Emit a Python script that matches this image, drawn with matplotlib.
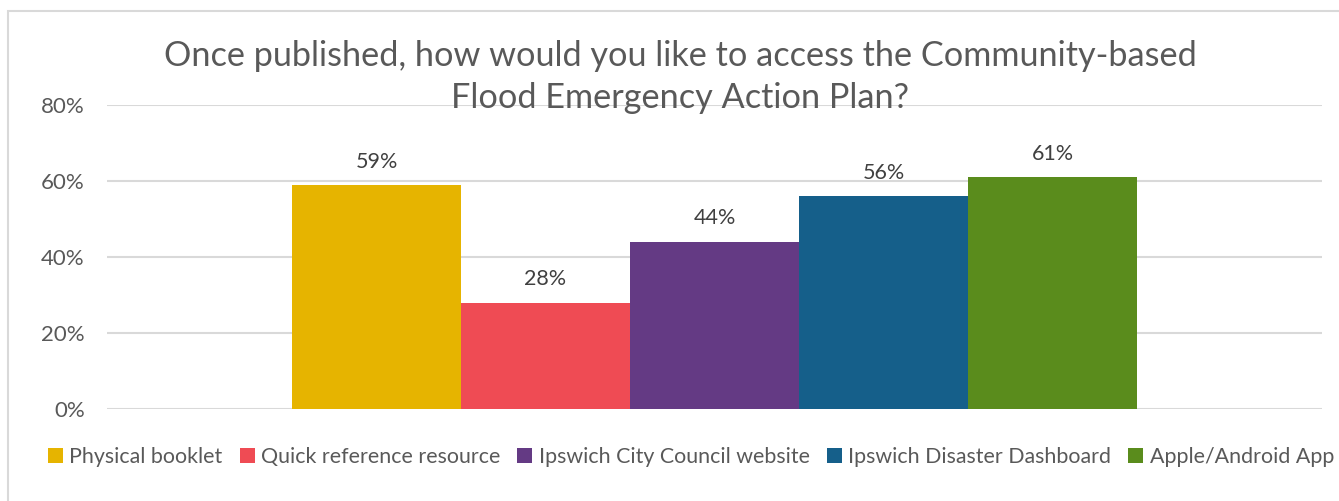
import numpy as np
import matplotlib.pyplot as plt
from matplotlib.patches import Rectangle

options = ['Physical booklet', 'Quick reference resource', 'Ipswich City Council website',
           'Ipswich Disaster Dashboard', 'Apple/Android App']
shares = [0.59, 0.28, 0.44, 0.56, 0.61]
colors = ['#E6B400', '#EF4B54', '#643A84', '#155F8A', '#5A8C1C']
yticks = [0, 0.2, 0.4, 0.6, 0.8]

plt.rcParams['font.family'] = ['Lato', 'DejaVu Sans']

fig = plt.figure(figsize=(13.39, 5.01), dpi=100)
ax = fig.add_axes([107 / 1339, 1 - 409 / 501, (1322 - 107) / 1339, (409 - 105) / 501])

# one category, five series side by side (Excel-style gap width)
gap = 2.19
w = 1 / (len(options) + gap)
start = -len(options) * w / 2
for i, (name, v, c) in enumerate(zip(options, shares, colors)):
    x = start + i * w
    ax.bar(x, v, width=w, align='edge', color=c, label=name, zorder=3)
    ax.text(x + w / 2, v + 0.035, f'{v:.0%}', ha='center', va='bottom',
            fontsize=15.5, color='#404040')

ax.set_xlim(-0.5, 0.5)
ax.set_ylim(0, 0.8)
ax.set_yticks(yticks)
ax.set_yticklabels([f'{t:.0%}' for t in yticks], fontsize=16, color='#595959')
ax.set_xticks([])
ax.tick_params(axis='y', length=0, pad=16)
ax.grid(axis='y', color='#D9D9D9', linewidth=1.5, zorder=0)
for s in ax.spines.values():
    s.set_visible(False)

fig.text(680 / 1339, 1 - 77 / 501,
         'Once published, how would you like to access the Community-based\nFlood Emergency Action Plan?',
         ha='center', va='center', fontsize=24.7, color='#595959', linespacing=1.35)

fig.legend(loc='center', bbox_to_anchor=(691 / 1339, 1 - 457 / 501), ncol=5, frameon=False,
           fontsize=15.4, labelcolor='#595959', handlelength=0.7, handleheight=0.7,
           handletextpad=0.3, columnspacing=0.8)

# chart area border
fig.patches.append(Rectangle((8 / 1339, -0.1), 1.2, 1 - 11 / 501 + 0.1, transform=fig.transFigure,
                             fill=False, edgecolor='#D9D9D9', linewidth=1.5))

fig.savefig('out.png', dpi=100)
